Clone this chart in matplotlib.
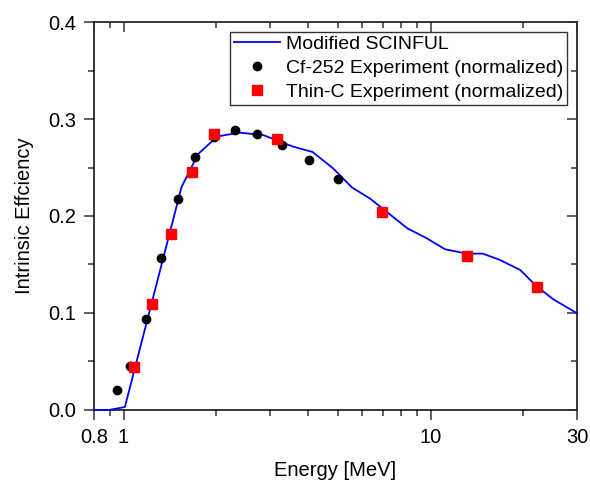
import numpy as np
import matplotlib
matplotlib.use("Agg")
from matplotlib import pyplot as plt
from matplotlib.ticker import FixedLocator, FixedFormatter, MultipleLocator, NullFormatter

plt.rcParams['font.family'] = ['Liberation Sans', 'DejaVu Sans']

# Modified SCINFUL curve
sim_e = [0.8, 0.898, 1.01, 1.545, 1.75, 2.02, 2.38, 2.85, 3.57, 4.13, 4.82, 5.54,
         6.35, 7.23, 8.40, 9.72, 11.15, 13.12, 14.8, 16.85, 19.6, 21.9, 25.1, 30.0]
sim_eff = [0.0, 0.0, 0.003, 0.230, 0.264, 0.282, 0.286, 0.2835, 0.2715, 0.266, 0.249, 0.2296,
           0.218, 0.2038, 0.1873, 0.177, 0.1657, 0.1612, 0.1612, 0.1546, 0.1443, 0.129, 0.1141, 0.0997]

# Cf-252 experiment (normalized)
cf_e = [0.949, 1.048, 1.182, 1.323, 1.50, 1.708, 1.97, 2.31, 2.73, 3.27, 4.01, 5.01]
cf_eff = [0.021, 0.0457, 0.0935, 0.1564, 0.2172, 0.261, 0.281, 0.2884, 0.2845, 0.273, 0.258, 0.2378]

# Thin-C experiment (normalized)
tc_e = [1.08, 1.234, 1.423, 1.670, 1.965, 3.15, 6.97, 13.18, 22.24]
tc_eff = [0.0447, 0.109, 0.181, 0.2457, 0.2842, 0.2797, 0.204, 0.1588, 0.127]

x_major = [0.8, 1, 10, 30]
x_major_lab = ['0.8', '1', '10', '30']
x_minor = [0.9, 2, 3, 4, 5, 6, 7, 8, 9, 20]

fs = 14.5

fig = plt.figure(figsize=(5.9, 4.8), dpi=100)
ax = fig.add_axes([0.159, 0.146, 0.819, 0.808])

ax.set_xscale('log')
ax.set_xlim(0.8, 30)
ax.set_ylim(0, 0.4)


def set_ticks(a):
    a.xaxis.set_major_locator(FixedLocator(x_major))
    a.xaxis.set_major_formatter(FixedFormatter(x_major_lab))
    a.xaxis.set_minor_locator(FixedLocator(x_minor))
    a.xaxis.set_minor_formatter(NullFormatter())
    a.yaxis.set_major_locator(MultipleLocator(0.1))
    a.yaxis.set_minor_locator(MultipleLocator(0.05))


set_ticks(ax)
ax.yaxis.set_major_formatter(plt.FuncFormatter(lambda v, p: '%.1f' % v))
ax.tick_params(which='both', direction='out', labelsize=fs, width=1.1,
               color='#333333', top=False, right=False, pad=6)
ax.tick_params(which='major', length=7)
ax.tick_params(which='minor', length=4)

# inward ticks on top and right
axt = ax.twiny()
axt.set_xscale('log')
axt.set_xlim(ax.get_xlim())
axr = ax.twinx()
axr.set_ylim(ax.get_ylim())
for a in (axt, axr):
    set_ticks(a)
    a.tick_params(which='both', direction='in', width=1.1, color='#333333',
                  labeltop=False, labelright=False, labelbottom=False, labelleft=False)
    a.tick_params(which='major', length=7)
    a.tick_params(which='minor', length=4)
    for s in a.spines.values():
        s.set_visible(False)
axt.tick_params(axis='y', left=False, right=False)
axr.tick_params(axis='x', top=False, bottom=False)

for s in ax.spines.values():
    s.set_linewidth(1.1)

# draw the data on the top-most axes so the curve sits over the bottom spine
pa = axr
pa.plot(sim_e, sim_eff, color='#0000ff', lw=1.3, label='Modified SCINFUL',
        zorder=3, clip_on=False)
pa.plot(cf_e, cf_eff, 'o', color='black', ms=6, ls='none',
        label='Cf-252 Experiment (normalized)', zorder=4)
pa.plot(tc_e, tc_eff, 's', color='#ff0000', ms=6.5, ls='none',
        label='Thin-C Experiment (normalized)', zorder=5)
pa.set_xscale('log')
pa.set_xlim(0.8, 30)
pa.set_ylim(0, 0.4)
set_ticks(pa)

ax.set_xlabel('Energy [MeV]', fontsize=fs, labelpad=10)
ax.set_ylabel('Intrinsic Effciency', fontsize=fs, labelpad=10)

leg = pa.legend(loc='upper right', fontsize=14, frameon=True, fancybox=False,
                edgecolor='black', borderaxespad=0.5, handlelength=2.4,
                handletextpad=0.3, borderpad=0.2, labelspacing=0.32)
leg.get_frame().set_linewidth(1.0)
leg.set_zorder(10)

fig.savefig('out.png', dpi=100)
